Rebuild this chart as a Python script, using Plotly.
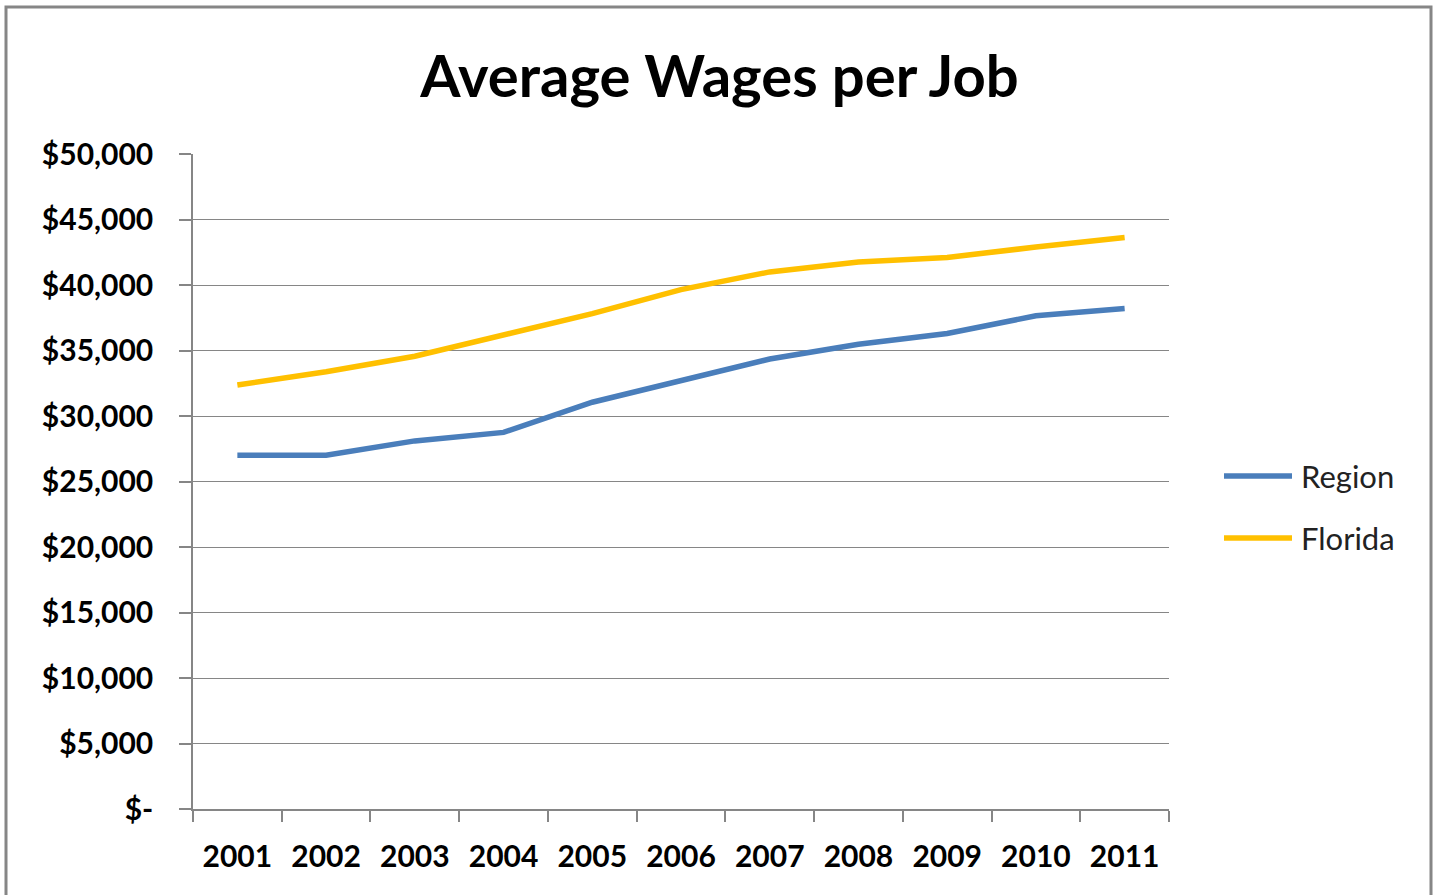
import plotly.graph_objects as go

# Average annual wages per job, 2001-2011
years = ["2001", "2002", "2003", "2004", "2005", "2006",
         "2007", "2008", "2009", "2010", "2011"]
region_wages = [27000, 27000, 28100, 28750, 31050, 32700,
                34350, 35480, 36300, 37650, 38200]
florida_wages = [32370, 33380, 34560, 36150, 37820, 39650,
                 41000, 41760, 42100, 42900, 43620]

series_names = ["Region", "Florida"]
series_colors = ["#4A7EBB", "#FFC000"]

y_tick_vals = [0, 5000, 10000, 15000, 20000, 25000,
               30000, 35000, 40000, 45000, 50000]
y_tick_text = ["$-", "$5,000", "$10,000", "$15,000", "$20,000", "$25,000",
               "$30,000", "$35,000", "$40,000", "$45,000", "$50,000"]

FONT = "Lato"
AXIS_GREY = "#868686"

# plot-area geometry (pixels) used to place paper-referenced decorations
W, H = 1439, 895
L, R, T, B = 193, 270, 154, 86
PW, PH = W - L - R, H - T - B


def px_to_paper(px, py):
    return (px - L) / PW, (H - B - py) / PH


fig = go.Figure()
for name, vals, color in zip(series_names, [region_wages, florida_wages], series_colors):
    fig.add_trace(go.Scatter(
        x=years, y=vals, name=name, mode="lines",
        line=dict(color=color, width=5.5), showlegend=False,
    ))

fig.update_layout(
    width=W, height=H,
    margin=dict(l=L, r=R, t=T, b=B),
    paper_bgcolor="white", plot_bgcolor="white",
    font=dict(family=FONT, color="black"),
    title=dict(
        text="<b>Average Wages per Job</b>",
        x=0.5, xref="container", xanchor="center",
        y=1 - 77 / H, yref="container", yanchor="middle",
        font=dict(family=FONT, size=58, color="black"),
    ),
)

fig.update_xaxes(
    type="category", range=[-0.5, 10.5],
    showline=True, linecolor=AXIS_GREY, linewidth=1.5,
    ticks="outside", tickson="boundaries", ticklen=11,
    tickcolor=AXIS_GREY, tickwidth=1.5,
    showgrid=False, zeroline=False,
    tickfont=dict(family=FONT, size=30, color="black", weight="bold"),
    ticklabelstandoff=20,
)
fig.update_yaxes(
    range=[0, 50000],
    tickvals=y_tick_vals, ticktext=y_tick_text,
    showline=True, linecolor=AXIS_GREY, linewidth=1.5,
    ticks="outside", ticklen=12, tickcolor=AXIS_GREY, tickwidth=1.5,
    showgrid=True, gridcolor=AXIS_GREY, gridwidth=1.2,
    zeroline=False,
    tickfont=dict(family=FONT, size=30, color="black", weight="bold"),
    ticklabelstandoff=20,
)

# Legend: a line swatch and label per series, right of the plot area
for i, (name, color) in enumerate(zip(series_names, series_colors)):
    row_y = 476 + 62 * i
    x0, y0 = px_to_paper(1224, row_y)
    x1, _ = px_to_paper(1292, row_y)
    fig.add_shape(
        type="line", xref="paper", yref="paper",
        x0=x0, x1=x1, y0=y0, y1=y0,
        line=dict(color=color, width=5.5),
    )
    tx, ty = px_to_paper(1299, row_y)
    fig.add_annotation(
        xref="paper", yref="paper", x=tx, y=ty,
        xanchor="left", yanchor="middle", showarrow=False,
        text=name, font=dict(family=FONT, size=31, color="#222222"),
    )

# Outer chart frame
fx0, fy1 = px_to_paper(6, 7)
fx1, fy0 = px_to_paper(1431, 905)
fig.add_shape(
    type="rect", xref="paper", yref="paper",
    x0=fx0, x1=fx1, y0=fy0, y1=fy1,
    line=dict(color=AXIS_GREY, width=3), fillcolor="rgba(0,0,0,0)",
    layer="below",
)

fig.write_html("out.html")
